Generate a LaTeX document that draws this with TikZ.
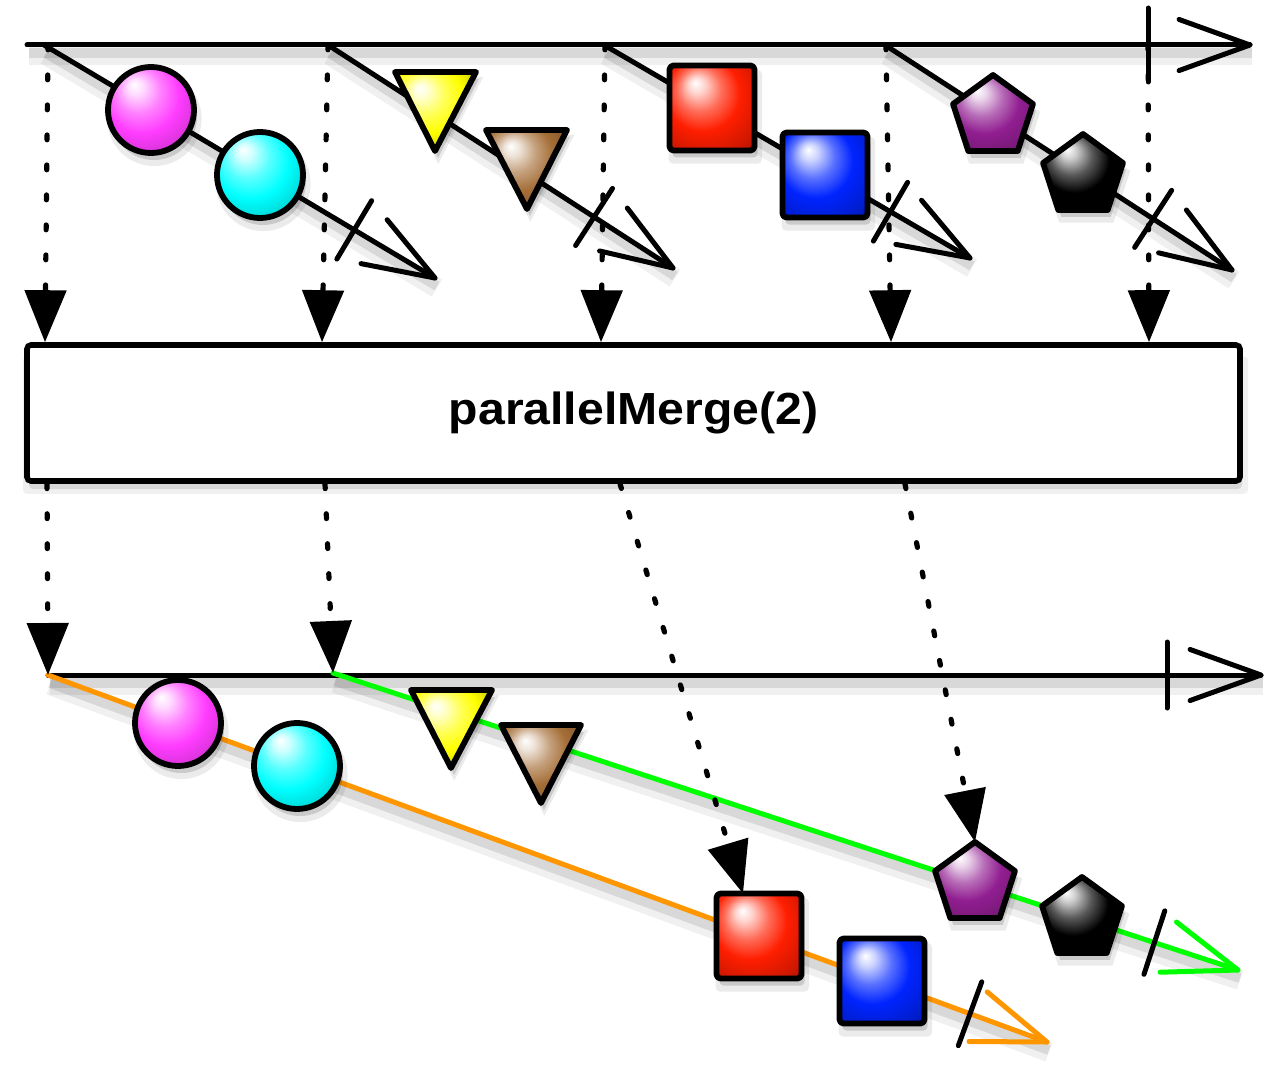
\documentclass[tikz,border=0pt]{standalone}
\usepackage{fontspec}
\setmainfont{Liberation Sans}
\usetikzlibrary{arrows.meta,calc,shapes.geometric,shadows}

\definecolor{cMag}{RGB}{255,60,255}
\definecolor{cCyan}{RGB}{0,255,255}
\definecolor{cYel}{RGB}{255,255,0}
\definecolor{cBrown}{RGB}{165,110,55}
\definecolor{cRed}{RGB}{255,30,0}
\definecolor{cBlue}{RGB}{0,36,255}
\definecolor{cPurp}{RGB}{145,30,145}
\definecolor{cBlk}{RGB}{0,0,0}
\definecolor{cOrange}{RGB}{255,150,0}
\definecolor{cGreen}{RGB}{0,255,0}

\newcommand{\mkshade}[2]{\pgfdeclareradialshading{#1}{\pgfpoint{-10bp}{15bp}}{color(0bp)=(white); color(5bp)=(#2!20!white); color(13bp)=(#2!65!white); color(22bp)=(#2); color(34bp)=(#2!80!black); color(50bp)=(#2!35!black)}}
\mkshade{shMag}{cMag}
\mkshade{shCyan}{cCyan}
\mkshade{shYel}{cYel}
\mkshade{shBrown}{cBrown}
\mkshade{shRed}{cRed}
\mkshade{shBlue}{cBlue}
\mkshade{shPurp}{cPurp}
\mkshade{shBlk}{cBlk}

% open arrow head: tip, from, colour, arm length
\newcommand{\strmtip}[4]{\draw[tl, draw=#3] ($(#1)!#4!19.8:(#2)$) -- (#1) -- ($(#1)!#4!-19.8:(#2)$);}
% completion bar: tip, from, distance, half length
\newcommand{\strmbar}[4]{\coordinate (barc) at ($(#1)!#3!(#2)$);
  \draw[tl, draw=black] ($(barc)!#4!90:(#1)$) -- ($(barc)!#4!-90:(#1)$);}

\tikzset{
  tl/.style={line width=2.5pt, line cap=round, line join=round},
  linesh/.style={preaction={draw=black, draw opacity=0.10, line width=5pt, transform canvas={shift={(1pt,-4pt)}}},
                 preaction={draw=black, draw opacity=0.06, line width=10pt, transform canvas={shift={(1pt,-5pt)}}}},
  shsh/.style={general shadow={fill=black, fill opacity=0.14, shadow xshift=1.5pt, shadow yshift=-3.5pt},
               general shadow={fill=black, fill opacity=0.08, shadow xshift=1.5pt, shadow yshift=-4pt, shadow scale=1.10}},
  dotarr/.style={line width=2.6pt, line cap=round, dash pattern=on 2.4pt off 12.6pt, -{Triangle[length=26pt,width=20.5pt]}},
  shp/.style={draw=black, line width=2.9pt, line join=round, inner sep=0pt, outer sep=0pt, shsh},
  ball/.style={shp, circle, minimum size=43pt},
  sq/.style={shp, rectangle, rounded corners=2pt, minimum size=42.5pt},
  pent/.style={shp, regular polygon, regular polygon sides=5, minimum size=42pt},
  tri/.style={shp},
  opbox/.style={draw=black, fill=white, line width=2.8pt, rounded corners=2pt, minimum width=606.5pt, minimum height=68pt,
     inner sep=0pt, font=\fontsize{22.5pt}{27pt}\selectfont\bfseries,
     general shadow={fill=black, fill opacity=0.10, shadow xshift=1pt, shadow yshift=-4pt},
     general shadow={fill=black, fill opacity=0.06, shadow xshift=1pt, shadow yshift=-6pt, shadow scale=1.01}}
}

\begin{document}
\begin{tikzpicture}[x=0.5pt,y=-0.5pt]
\useasboundingbox (0,0) rectangle (1280,1070);

% operator box
\node[opbox] (op) at (633.5,413) {\scalebox{1.07}[1]{parallelMerge(2)}};

% ---------- top ----------
\coordinate (t0) at (27,45);   \coordinate (t1) at (1250,45);
\coordinate (s1) at (44,45);   \coordinate (e1) at (435,278);
\coordinate (s2) at (328,45);  \coordinate (e2) at (673,268);
\coordinate (s3) at (604,45);  \coordinate (e3) at (970,258);
\coordinate (s4) at (885,45);  \coordinate (e4) at (1232,270);
\coordinate (sb) at (1148,45);

% dotted arrows into the operator
\draw[dotarr] (48,45) -- (45,0 |- op.north);
\draw[dotarr] (s2) -- (322,0 |- op.north);
\draw[dotarr] (605,45) -- (601,0 |- op.north);
\draw[dotarr] (886,45) -- (891,0 |- op.north);
\draw[dotarr] (sb) -- (1149,0 |- op.north);

% outer timeline
\draw[tl, linesh] (t0) -- (t1);
\strmtip{t1}{t0}{black}{37.7pt}
\strmbar{t1}{t0}{51pt}{18.5pt}

% stream 1
\draw[tl, linesh] (s1) -- (e1);
\strmtip{e1}{s1}{black}{37.7pt}
\strmbar{e1}{s1}{47pt}{17pt}
\node[ball, shading=shMag] (m1) at (151,110) {};
\node[ball, shading=shCyan] (c1) at (260,175) {};

% stream 2
\draw[tl, linesh] (s2) -- (e2);
\strmtip{e2}{s2}{black}{37.7pt}
\strmbar{e2}{s2}{47pt}{17pt}
\path[tri, shading=shYel] (395,72) -- (476,72) -- (435,151) -- cycle;
\coordinate (y1) at (435,98);
\path[tri, shading=shBrown] (486,130) -- (567,130) -- (527,209) -- cycle;
\coordinate (br1) at (527,156);

% stream 3
\draw[tl, linesh] (s3) -- (e3);
\strmtip{e3}{s3}{black}{37.7pt}
\strmbar{e3}{s3}{46pt}{17pt}
\node[sq, shading=shRed] (r1) at (712,108) {};
\node[sq, shading=shBlue] (bl1) at (825,175) {};

% stream 4
\draw[tl, linesh] (s4) -- (e4);
\strmtip{e4}{s4}{black}{37.7pt}
\strmbar{e4}{s4}{47pt}{17pt}
\node[pent, shading=shPurp] (p1) at (993,117) {};
\node[pent, shading=shBlk] (k1) at (1083,176) {};

% ---------- bottom ----------
\coordinate (b0) at (48,675);   \coordinate (b1) at (1261,675);
\coordinate (g0) at (333,673);  \coordinate (ge) at (1238,970);
\coordinate (oe) at (1047,1042);

\draw[tl, linesh] (b0) -- (b1);
\strmtip{b1}{b0}{black}{37.7pt}
\strmbar{b1}{b0}{47pt}{16.5pt}

% orange stream
\draw[tl, linesh, draw=cOrange] (b0) -- (oe);
\strmtip{oe}{b0}{cOrange}{39pt}
\strmbar{oe}{b0}{41pt}{17pt}

% green stream
\draw[tl, linesh, draw=cGreen] (g0) -- (ge);
\strmtip{ge}{g0}{cGreen}{39pt}
\strmbar{ge}{g0}{44pt}{16.7pt}

\node[ball, shading=shMag] (m2) at (178,723) {};
\node[ball, shading=shCyan] (c2) at (297,766) {};
\path[tri, shading=shYel] (411,690) -- (492,690) -- (451,768) -- cycle;
\coordinate (y2) at (451,716);
\path[tri, shading=shBrown] (501,725) -- (581,725) -- (541,803) -- cycle;
\coordinate (br2) at (541,751);
\node[sq, shading=shRed] (r2) at (759,936) {};
\node[sq, shading=shBlue] (bl2) at (882,981) {};
\node[pent, shading=shPurp] (p2) at (975,884) {};
\node[pent, shading=shBlk] (k2) at (1082,919) {};

% dotted arrows out of the operator
\draw[dotarr] (47,0 |- op.south) -- (b0);
\draw[dotarr] (325,0 |- op.south) -- (g0);
\draw[dotarr] (620,0 |- op.south) -- ($(r2.north)+(-8pt,0)$);
\draw[dotarr] (905,0 |- op.south) -- (p2.corner 1);

\end{tikzpicture}
\end{document}
